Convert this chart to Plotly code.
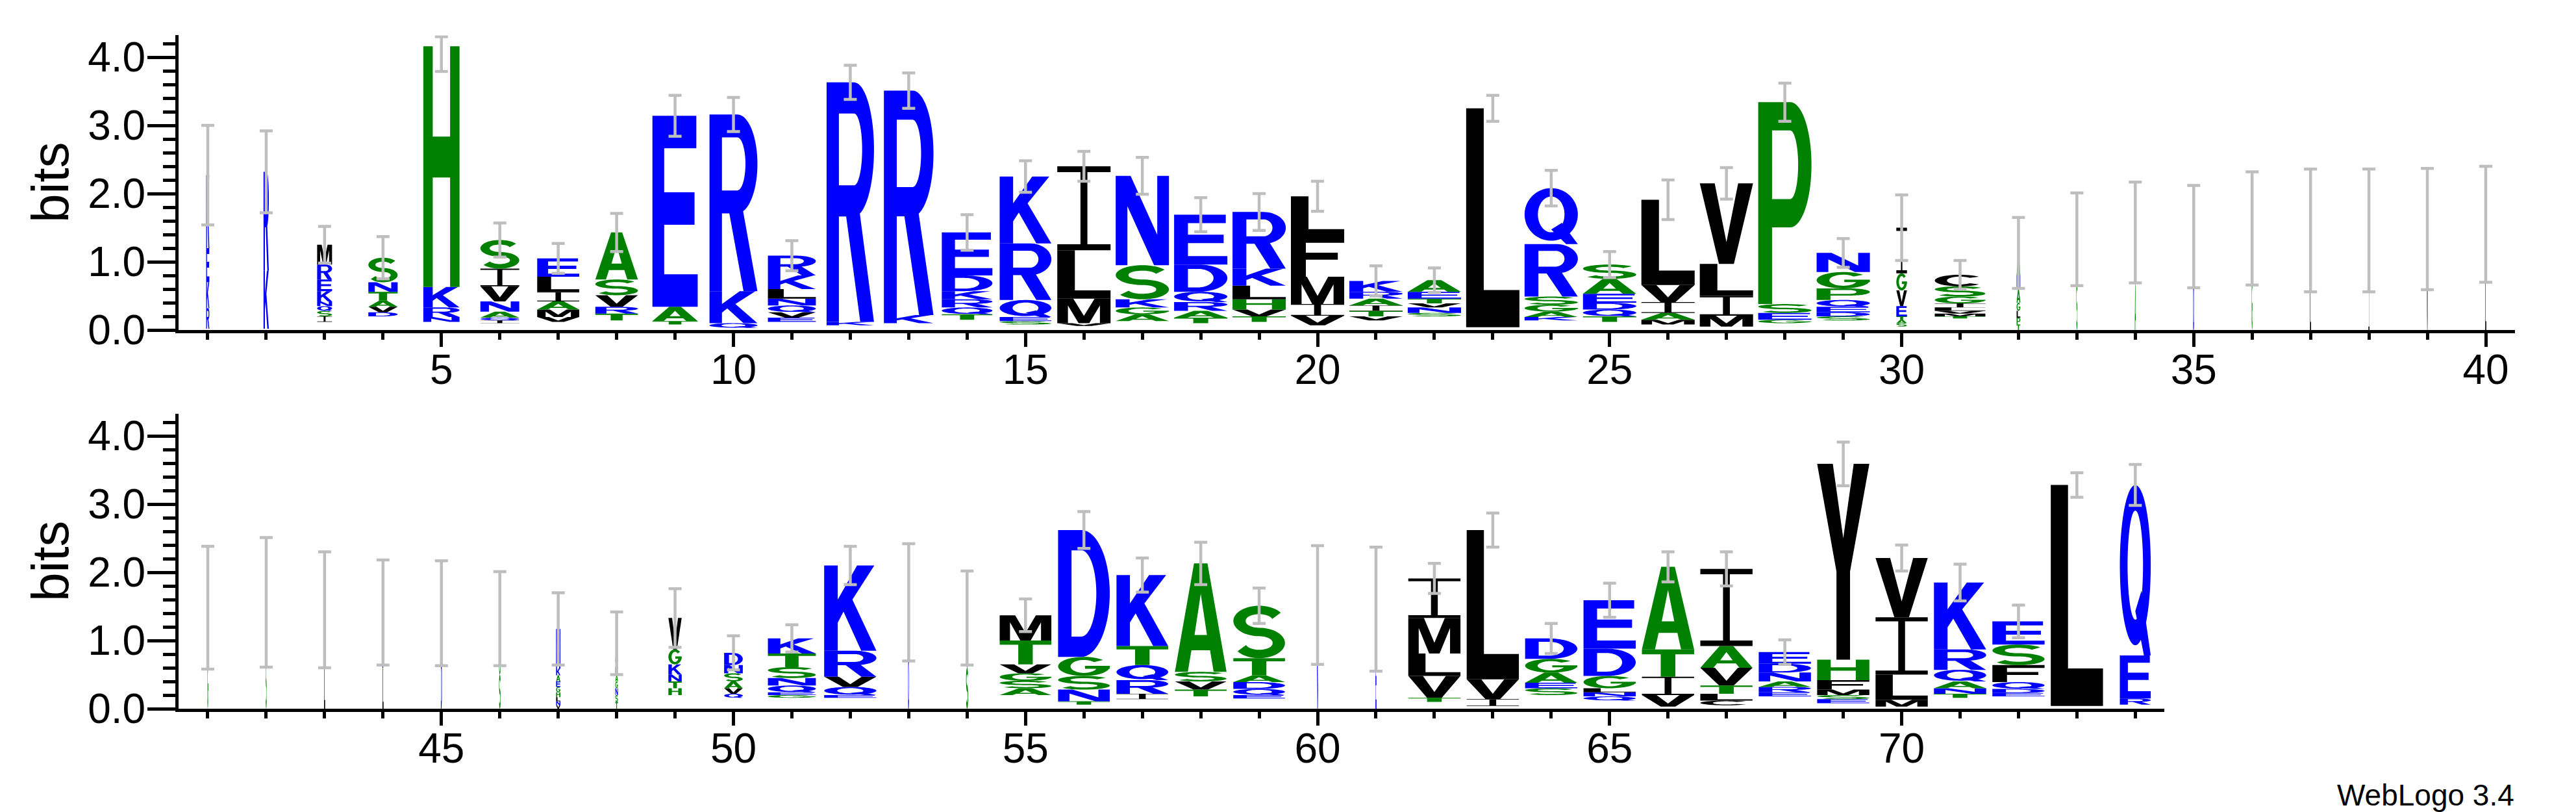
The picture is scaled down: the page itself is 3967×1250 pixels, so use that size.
import numpy as np
import plotly.graph_objects as go

# ---------------- data ----------------
positions = list(range(1, 75))

# letters of each stack, bottom -> top ('-' = empty space at the bottom of a stack)
stack_letters = [
    "-RKEK", "-KR", "-ISQNKERM", "-DVATNS", "-NRKH", "-IQANVIS", "-VMAILE", "-TRVSA",
    "-TAE", "-QKR", "-EVQNLKR", "-KR", "-KR", "-TQRKDE", "-SEQRK", "-VMLI",
    "-AGKSN", "-TARQDE", "-TVHLKR", "-VIMFL", "-VTIARK", "-SNVTEA", "-L", "-KAGSRQ",
    "-TQDEAS", "-MAIVL", "-MILV", "-GESP", "-SDEQPGN", "-SATEVGI", "-TMVLIGSC", "TPLGANA",
    "SG", "AG", "DN", "GS", "LV", "IL", "VL", "LM",
    "GA", "SG", "LG", "LDS", "DG", "SGN", "VNLHGEAKN", "TSNGAEIA",
    "-HTNKGV", "-QVASND", "-GEQNSTK", "-EQVRK", "DN", "SG", "-ASGVTM", "-TNSGD",
    "-IRQTK", "-TVSA", "-EQDATS", "ND", "EK", "-TVLMI", "-IVL", "-SEAGD",
    "-QNLGDE", "-VITA", "-CLTVAI", "-ERANDE", "-ESMFHY", "-MLIV", "-TNAQRK", "-EDQFSE",
    "-L", "-REQ",
]

# heights (bits) of each letter, bottom -> top
stack_heights = [
    [0.02, 0.30, 0.38, 0.50, 1.07], [0.02, 0.85, 1.45],
    [0.12, 0.08, 0.08, 0.07, 0.07, 0.15, 0.17, 0.22, 0.29],
    [0.20, 0.06, 0.08, 0.09, 0.13, 0.14, 0.36], [0.12, 0.07, 0.14, 0.30, 3.53],
    [0.10, 0.04, 0.04, 0.09, 0.15, 0.22, 0.26, 0.42],
    [0.12, 0.07, 0.11, 0.12, 0.14, 0.22, 0.27], [0.14, 0.10, 0.10, 0.17, 0.23, 0.69],
    [0.08, 0.05, 0.21, 2.80], [0.03, 0.07, 0.47, 2.59],
    [0.12, 0.06, 0.08, 0.10, 0.10, 0.14, 0.20, 0.29], [0.07, 0.05, 3.51], [0.10, 0.12, 3.29],
    [0.15, 0.08, 0.10, 0.12, 0.12, 0.23, 0.63], [0.08, 0.05, 0.06, 0.25, 0.83, 0.98],
    [0.06, 0.04, 0.36, 0.71, 1.23], [0.13, 0.10, 0.10, 0.12, 0.50, 1.31],
    [0.10, 0.08, 0.10, 0.13, 0.15, 0.40, 0.73], [0.12, 0.08, 0.10, 0.15, 0.20, 0.25, 0.83],
    [0.07, 0.14, 0.17, 0.40, 0.60, 0.58], [0.14, 0.06, 0.08, 0.08, 0.10, 0.10, 0.16],
    [0.20, 0.05, 0.08, 0.06, 0.07, 0.10, 0.17], [0.04, 3.21],
    [0.14, 0.05, 0.08, 0.10, 0.12, 0.77, 0.82], [0.12, 0.08, 0.10, 0.10, 0.13, 0.22, 0.21],
    [0.08, 0.07, 0.10, 0.16, 0.25, 1.25], [0.05, 0.16, 0.29, 0.47, 1.18],
    [0.10, 0.05, 0.10, 0.13, 2.96], [0.14, 0.06, 0.06, 0.08, 0.10, 0.17, 0.24, 0.28],
    [0.05, 0.05, 0.05, 0.05, 0.15, 0.23, 0.25, 0.67],
    [0.17, 0.03, 0.04, 0.04, 0.05, 0.06, 0.10, 0.15, 0.17],
    [0.08, 0.10, 0.10, 0.12, 0.20, 0.20, 0.33],
    [0.70, 0.63], [0.70, 0.73], [0.70, 0.67], [0.75, 0.74], [0.70, 0.76], [0.70, 0.76],
    [0.70, 0.78], [0.75, 0.80],
    [0.70, 0.78], [0.75, 0.81], [0.75, 0.70], [0.60, 0.20, 0.61], [0.70, 0.70], [0.50, 0.30, 0.52],
    [0.05, 0.06, 0.06, 0.07, 0.08, 0.08, 0.09, 0.10, 0.58],
    [0.10, 0.10, 0.10, 0.10, 0.10, 0.10, 0.10, 0.26],
    [0.20, 0.10, 0.10, 0.10, 0.15, 0.22, 0.46], [0.16, 0.06, 0.08, 0.10, 0.12, 0.12, 0.18],
    [0.16, 0.04, 0.04, 0.10, 0.11, 0.16, 0.20, 0.22], [0.16, 0.04, 0.12, 0.15, 0.38, 1.25],
    [0.80, 0.76], [0.60, 0.73],
    [0.20, 0.10, 0.11, 0.11, 0.13, 0.35, 0.37], [0.06, 0.05, 0.17, 0.20, 0.28, 1.86],
    [0.14, 0.08, 0.20, 0.22, 0.28, 1.04], [0.18, 0.10, 0.12, 0.14, 1.59],
    [0.15, 0.05, 0.09, 0.10, 0.10, 0.25, 0.77], [0.80, 0.72], [0.80, 0.66],
    [0.10, 0.06, 0.32, 0.33, 0.52, 0.58], [0.04, 0.10, 0.29, 2.19],
    [0.20, 0.10, 0.08, 0.15, 0.20, 0.30], [0.12, 0.06, 0.06, 0.06, 0.18, 0.40, 0.71],
    [0.03, 0.17, 0.27, 0.40, 1.21], [0.05, 0.07, 0.10, 0.12, 0.26, 0.32, 1.13],
    [0.18, 0.06, 0.08, 0.08, 0.13, 0.13, 0.17], [0.08, 0.06, 0.06, 0.08, 0.14, 0.30, 2.87],
    [0.03, 0.10, 0.37, 0.84, 0.87], [0.16, 0.06, 0.08, 0.10, 0.17, 0.30, 0.98],
    [0.18, 0.05, 0.06, 0.10, 0.25, 0.30, 0.34], [0.04, 3.24], [0.06, 0.09, 0.63, 2.50],
]

# relative stack width (fraction of sequences occupying the column)
stack_widths = [
    0.06, 0.10, 0.28, 0.55, 0.68, 0.73, 0.79, 0.80, 0.85, 0.90,
    0.90, 0.89, 0.93, 0.95, 0.97, 1.00, 1.00, 1.00, 1.00, 1.00,
    1.00, 1.00, 1.00, 1.00, 1.00, 1.00, 1.00, 1.00, 1.00, 0.20,
    0.95, 0.07, 0.02, 0.02, 0.02, 0.02, 0.02, 0.02, 0.02, 0.02,
    0.02, 0.02, 0.02, 0.02, 0.02, 0.03, 0.08, 0.05, 0.25, 0.35,
    0.90, 0.98, 0.02, 0.04, 0.97, 0.97, 0.97, 0.97, 0.97, 0.02,
    0.02, 0.98, 0.98, 0.98, 0.98, 0.98, 0.98, 0.98, 0.98, 0.98,
    0.98, 0.98, 0.98, 0.58,
]

# half-length of the error bar at each stack (bits)
error_half = [
    0.73, 0.60, 0.27, 0.31, 0.37, 0.25, 0.22, 0.28, 0.30, 0.25,
    0.22, 0.25, 0.26, 0.26, 0.23, 0.22, 0.27, 0.25, 0.27, 0.22,
    0.22, 0.18, 0.19, 0.26, 0.19, 0.29, 0.23, 0.28, 0.21, 0.48,
    0.21, 0.52, 0.68, 0.74, 0.75, 0.83, 0.90, 0.90, 0.89, 0.85,
    0.90, 0.95, 0.85, 0.77, 0.77, 0.69, 0.53, 0.46, 0.43, 0.25,
    0.20, 0.28, 0.86, 0.69, 0.24, 0.27, 0.25, 0.31, 0.26, 0.87,
    0.91, 0.22, 0.25, 0.22, 0.25, 0.22, 0.25, 0.18, 0.32, 0.19,
    0.27, 0.24, 0.18, 0.30,
]

y_tick_values = [0, 1, 2, 3, 4]
y_max = 4.32          # log2(20)
error_cap_limit = 4.30

letter_colors = {}
for aa in "RKDENQ":
    letter_colors[aa] = "#0000FF"
for aa in "SGHTAP":
    letter_colors[aa] = "#008000"
for aa in "YVMCLFIW":
    letter_colors[aa] = "#000000"

# ---------------- glyph outlines (unit box) ----------------
def ell(cx, cy, rx, ry, t0, t1, n=40):
    ts = np.radians(np.linspace(t0, t1, n))
    return [(cx + rx * np.cos(t), cy + ry * np.sin(t)) for t in ts]


def stroke(pts, tx, ty):
    pts = np.array(pts, dtype=float)
    tang = np.gradient(pts, axis=0)
    nrm = np.stack([-tang[:, 1], tang[:, 0]], axis=1)
    nrm /= np.linalg.norm(nrm, axis=1, keepdims=True)
    off = nrm * np.array([tx, ty])
    left = pts + off
    right = pts - off
    return [tuple(p) for p in np.vstack([left, right[::-1]])]


def rect(x0, y0, x1, y1):
    return [(x0, y0), (x1, y0), (x1, y1), (x0, y1)]


def signed_area(c):
    s = 0.0
    for i in range(len(c)):
        x1, y1 = c[i]
        x2, y2 = c[(i + 1) % len(c)]
        s += x1 * y2 - x2 * y1
    return s / 2


def orient(c, hole):
    a = signed_area(c)
    if (a > 0) == hole:
        c = c[::-1]
    return c


SW = 0.26
HB = 0.16

raw = {}
raw["A"] = [([(0, 0), (0.25, 0), (0.32, 0.2), (0.68, 0.2), (0.75, 0), (1, 0), (0.63, 1), (0.37, 1)], False),
            ([(0.38, 0.34), (0.62, 0.34), (0.5, 0.72)], True)]
raw["C"] = [(stroke(ell(0.5, 0.5, 0.38, 0.42, 42, 318), 0.12, 0.08), False)]
raw["D"] = [([(0, 0), (0.45, 0)] + ell(0.45, 0.5, 0.55, 0.5, -90, 90)[1:-1] + [(0.45, 1), (0, 1)], False),
            ([(SW, HB), (0.45, HB)] + ell(0.45, 0.5, 0.29, 0.5 - HB, -90, 90)[1:-1] + [(0.45, 1 - HB), (SW, 1 - HB)], True)]
raw["E"] = [([(0, 0), (1, 0), (1, 0.17), (0.26, 0.17), (0.26, 0.43), (0.93, 0.43), (0.93, 0.6), (0.26, 0.6),
              (0.26, 0.83), (0.97, 0.83), (0.97, 1), (0, 1)], False)]
raw["F"] = [([(0, 0), (0.28, 0), (0.28, 0.42), (0.88, 0.42), (0.88, 0.59), (0.28, 0.59), (0.28, 0.83),
              (1, 0.83), (1, 1), (0, 1)], False)]
raw["G"] = [(stroke(ell(0.5, 0.5, 0.38, 0.42, 42, 360), 0.12, 0.08), False),
            (rect(0.52, 0.38, 1.0, 0.53), False)]
raw["H"] = [([(0, 0), (SW, 0), (SW, 0.455), (1 - SW, 0.455), (1 - SW, 0), (1, 0), (1, 1), (1 - SW, 1),
              (1 - SW, 0.625), (SW, 0.625), (SW, 1), (0, 1)], False)]
raw["I"] = [([(0, 0), (1, 0), (1, 0.07), (0.565, 0.07), (0.565, 0.93), (1, 0.93), (1, 1), (0, 1),
              (0, 0.93), (0.435, 0.93), (0.435, 0.07), (0, 0.07)], False)]
raw["K"] = [([(0, 0), (SW, 0), (SW, 0.33), (0.37, 0.46), (0.71, 0), (1, 0), (0.54, 0.6), (0.96, 1),
              (0.63, 1), (SW, 0.6), (SW, 1), (0, 1)], False)]
raw["L"] = [([(0, 0), (1, 0), (1, 0.17), (0.33, 0.17), (0.33, 1), (0, 1)], False)]
raw["M"] = [([(0, 0), (0.2, 0), (0.2, 0.72), (0.4, 0), (0.6, 0), (0.8, 0.72), (0.8, 0), (1, 0), (1, 1),
              (0.7, 1), (0.5, 0.3), (0.3, 1), (0, 1)], False)]
raw["N"] = [([(0, 0), (0.22, 0), (0.22, 0.66), (0.72, 0), (1, 0), (1, 1), (0.78, 1), (0.78, 0.34),
              (0.28, 1), (0, 1)], False)]
raw["P"] = [([(0, 0), (SW, 0), (SW, 0.38), (0.6, 0.38)] + ell(0.6, 0.69, 0.4, 0.31, -90, 90)[1:-1]
             + [(0.6, 1), (0, 1)], False),
            ([(SW, 0.52), (0.6, 0.52)] + ell(0.6, 0.69, 0.15, 0.17, -90, 90)[1:-1] + [(0.6, 0.86), (SW, 0.86)], True)]
raw["Q"] = [(ell(0.5, 0.53, 0.5, 0.47, 0, 360, 64)[:-1], False),
            (ell(0.5, 0.53, 0.25, 0.32, 0, 360, 64)[:-1], True),
            ([(0.5, 0.26), (0.78, 0.0), (1.0, 0.0), (0.7, 0.38)], False)]
raw["R"] = [([(0, 0), (SW, 0), (SW, 0.44), (0.58, 0.44)] + ell(0.58, 0.72, 0.42, 0.28, -90, 90)[1:-1]
             + [(0.58, 1), (0, 1)], False),
            ([(SW, 0.57), (0.58, 0.57)] + ell(0.58, 0.72, 0.17, 0.15, -90, 90)[1:-1] + [(0.58, 0.87), (SW, 0.87)], True),
            ([(0.4, 0.46), (0.71, 0), (1, 0), (0.67, 0.5)], False)]
s_upper = ell(0.5, 0.71, 0.38, 0.21, 28, 270, 40)
s_lower = ell(0.5, 0.29, 0.38, 0.21, 90, -152, 40)[1:]
raw["S"] = [(stroke(s_upper + s_lower, 0.12, 0.08), False)]
raw["T"] = [([(0.36, 0), (0.64, 0), (0.64, 0.82), (1, 0.82), (1, 1), (0, 1), (0, 0.82), (0.36, 0.82)], False)]
raw["V"] = [([(0, 1), (0.28, 1), (0.5, 0.27), (0.72, 1), (1, 1), (0.64, 0), (0.36, 0)], False)]
raw["W"] = [([(0, 1), (0.2, 1), (0.3, 0.3), (0.42, 1), (0.58, 1), (0.7, 0.3), (0.8, 1), (1, 1),
              (0.84, 0), (0.6, 0), (0.5, 0.65), (0.4, 0), (0.16, 0)], False)]
raw["Y"] = [([(0, 1), (0.3, 1), (0.5, 0.62), (0.7, 1), (1, 1), (0.63, 0.45), (0.63, 0), (0.37, 0),
              (0.37, 0.45)], False)]

GLYPHS = {k: [orient(list(c), h) for c, h in v] for k, v in raw.items()}


def glyph_path(letter, x0, y0, w, h):
    parts = []
    for c in GLYPHS[letter]:
        pts = [(x0 + gx * w, y0 + gy * h) for gx, gy in c]
        parts.append("M" + "L".join(f"{x:.4f},{y:.5f}" for x, y in pts) + "Z")
    return "".join(parts)


# ---------------- figure ----------------
W, H = 3967, 1250
BASE_W = 0.912     # full stack width in position units

shapes = []
totals = []
for i, p in enumerate(positions):
    xref, yref = ("x", "y") if p <= 40 else ("x2", "y2")
    w = BASE_W * stack_widths[i]
    y0 = 0.0
    for letter, h in zip(stack_letters[i], stack_heights[i]):
        if letter != "-":
            shapes.append(dict(type="path", path=glyph_path(letter, p - w / 2, y0, w, h),
                               xref=xref, yref=yref, fillcolor=letter_colors[letter],
                               line=dict(width=0), layer="below", fillrule="nonzero"))
        y0 += h
    totals.append(y0)

fig = go.Figure()
for lo, hi, xa, ya in [(1, 40, "x", "y"), (41, 74, "x2", "y2")]:
    idx = [i for i, p in enumerate(positions) if lo <= p <= hi]
    xs = [positions[i] for i in idx]
    ys = [totals[i] for i in idx]
    up = [min(error_half[i], error_cap_limit - totals[i]) for i in idx]
    dn = [error_half[i] for i in idx]
    fig.add_trace(go.Scatter(
        x=xs, y=ys, mode="markers", xaxis=xa, yaxis=ya,
        marker=dict(size=1, color="rgba(0,0,0,0)"),
        error_y=dict(type="data", symmetric=False, array=up, arrayminus=dn,
                     color="#BEBEBE", thickness=4.5, width=10),
        cliponaxis=False, showlegend=False, hoverinfo="skip"))

FONT = "Liberation Sans, Arial, Helvetica, sans-serif"

x_left = 267 / W
axis_common = dict(showgrid=False, zeroline=False, showline=True, linewidth=5, linecolor="black",
                   ticks="outside", tickcolor="black", tickwidth=5, automargin=False,
                   tickfont=dict(family=FONT, size=64, color="black"))

xaxis_style = dict(axis_common, tickmode="linear", tick0=0, dtick=5, ticklen=21, ticklabelstandoff=-20,
                   minor=dict(ticks="outside", tick0=0, dtick=1, ticklen=10, tickwidth=5, tickcolor="black"))
yaxis_style = dict(axis_common, range=[0, y_max], tickmode="array", tickvals=y_tick_values,
                   tickformat=".1f", ticklen=43, ticklabelstandoff=-10,
                   minor=dict(ticks="outside", tick0=0, dtick=0.2, ticklen=19, tickwidth=5, tickcolor="black"))

px_per_pos = (3865 - 267) / 40.0

fig.update_layout(
    width=W, height=H, autosize=False,
    margin=dict(l=0, r=0, t=0, b=0),
    paper_bgcolor="white", plot_bgcolor="white",
    shapes=shapes,
    xaxis=dict(xaxis_style, domain=[x_left, 3865 / W], range=[0.5, 40.5], anchor="y"),
    yaxis=dict(yaxis_style, domain=[1 - 500 / H, 1 - (500 - y_max * 105) / H], anchor="x"),
    xaxis2=dict(xaxis_style, domain=[x_left, (267 + 34 * px_per_pos) / W], range=[40.5, 74.5], anchor="y2"),
    yaxis2=dict(yaxis_style, domain=[1 - 1083 / H, 1 - (1083 - y_max * 105) / H], anchor="x2"),
    annotations=[
        dict(text="bits", xref="paper", yref="paper", x=69 / W, y=1 - 273 / H, textangle=-90,
             showarrow=False, xanchor="center", yanchor="middle",
             font=dict(family=FONT, size=80, color="black")),
        dict(text="bits", xref="paper", yref="paper", x=69 / W, y=1 - 856 / H, textangle=-90,
             showarrow=False, xanchor="center", yanchor="middle",
             font=dict(family=FONT, size=80, color="black")),
        dict(text="WebLogo 3.4", xref="paper", yref="paper", x=3866 / W, y=1 - 1216 / H,
             showarrow=False, xanchor="right", yanchor="middle",
             font=dict(family=FONT, size=46, color="black")),
    ],
)

fig.write_html("out.html")
